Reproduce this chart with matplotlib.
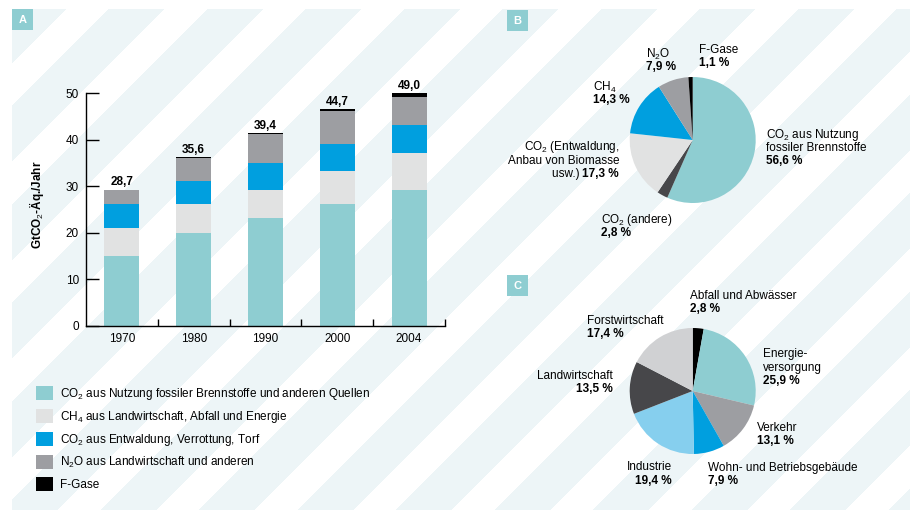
import numpy as np
import matplotlib.pyplot as plt
from matplotlib.patches import Rectangle

plt.rcParams['font.family'] = ['Liberation Sans', 'DejaVu Sans']
plt.rcParams['mathtext.fontset'] = 'custom'
plt.rcParams['mathtext.rm'] = 'Liberation Sans'
plt.rcParams['mathtext.it'] = 'Liberation Sans:italic'
plt.rcParams['mathtext.bf'] = 'Liberation Sans:bold'

# --- Panel A: stacked bars (GtCO2-eq per year) ---
years = ["1970", "1980", "1990", "2000", "2004"]
co2_fossil = [15.0, 20.0, 23.1, 26.2, 29.2]
ch4 = [6.1, 6.2, 6.1, 7.0, 8.0]
co2_forest = [5.1, 5.0, 5.9, 6.0, 6.0]
n2o = [3.0, 5.0, 6.1, 7.0, 6.1]
f_gases = [0.1, 0.1, 0.2, 0.4, 0.7]
totals = ["28,7", "35,6", "39,4", "44,7", "49,0"]
series_labels = [
    "CO$_2$ aus Nutzung fossiler Brennstoffe und anderen Quellen",
    "CH$_4$ aus Landwirtschaft, Abfall und Energie",
    "CO$_2$ aus Entwaldung, Verrottung, Torf",
    "N$_2$O aus Landwirtschaft und anderen",
    "F-Gase",
]

# --- Panel B: share by gas (2004) ---
gas_names = ["CO$_2$ aus Nutzung\nfossiler Brennstoffe", "CO$_2$ (andere)",
             "CO$_2$ (Entwaldung,\nAnbau von Biomasse\nusw.)", "CH$_4$", "N$_2$O", "F-Gase"]
gas_share = [56.6, 2.8, 17.3, 14.3, 7.9, 1.1]

# --- Panel C: share by sector (2004) ---
sector_names = ["Abfall und Abwässer", "Energie-\nversorgung", "Verkehr",
                "Wohn- und Betriebsgebäude", "Industrie", "Landwirtschaft",
                "Forstwirtschaft"]
sector_share = [2.8, 25.9, 13.1, 7.9, 19.4, 13.5, 17.4]

TEAL = "#8ecdd1"
LGRAY = "#e1e2e2"
BLUE = "#009fdf"
GRAY = "#9d9ea2"
BLACK = "#000000"
DARK = "#47474a"
LBLUE = "#86cfee"
FGRAY = "#d0d1d3"
STRIPE = "#edf5f7"

W, H = 910, 511
fig = plt.figure(figsize=(W / 100, H / 100), dpi=100)

# background canvas in pixel units (y up)
bg = fig.add_axes([0, 0, 1, 1], zorder=0)

# diagonal stripes
xx, yy = np.meshgrid(np.arange(W) + 0.5, np.arange(H) + 0.5)
stripe = ((xx + yy - 118) % 98.5) < 56
inside = (xx >= 12) & (yy >= 9) & (yy <= 510)
img = np.ones((H, W, 3))
col = np.array([int(STRIPE[i:i + 2], 16) / 255 for i in (1, 3, 5)])
img[stripe & inside] = col
bg.imshow(img, extent=(0, W, 0, H), origin='upper', interpolation='nearest',
          aspect='auto', zorder=0)


def py(y):
    return H - y


# letter boxes
for letter, x0, y0 in [("A", 12, 9), ("B", 507, 10), ("C", 507, 275)]:
    bg.add_patch(Rectangle((x0, py(y0 + 21)), 21, 21, facecolor=TEAL,
                           edgecolor='none', zorder=2))
    bg.text(x0 + 10.5, py(y0 + 10.5), letter, color='white', fontsize=8,
            fontweight='bold', ha='center', va='center', zorder=3)

# --- bar chart ---
ax = fig.add_axes([86 / W, 1 - 326 / H, 359 / W, 232.7 / H], zorder=1)
ax.patch.set_visible(False)
x = np.arange(len(years))
bottom = np.zeros(len(years))
handles = []
for vals, c in zip([co2_fossil, ch4, co2_forest, n2o, f_gases],
                   [TEAL, LGRAY, BLUE, GRAY, BLACK]):
    b = ax.bar(x, vals, width=0.49, bottom=bottom, color=c, edgecolor='none')
    handles.append(b)
    bottom += np.array(vals)
for xi, top, lab in zip(x, bottom, totals):
    ax.annotate(lab, (xi, top), xytext=(0, 1), textcoords='offset points',
                ha='center', va='bottom', fontsize=8.5, fontweight='bold')
ax.set_xlim(-0.5, 4.5)
ax.set_ylim(0, 50)
ax.set_xticks(x)
ax.set_xticklabels(years)
ax.set_xticks(np.arange(0.5, 5, 1), minor=True)
ax.tick_params(axis='x', which='major', length=0, labelsize=8.5, pad=5)
ax.tick_params(axis='x', which='minor', direction='in', length=5, width=1)
ax.set_yticks(np.arange(0, 51, 10))
ax.tick_params(axis='y', direction='in', length=9, width=1, labelsize=8.5, pad=5)
for s in ['top', 'right']:
    ax.spines[s].set_visible(False)
for s in ['left', 'bottom']:
    ax.spines[s].set_linewidth(1)
fig.text(37 / W, 1 - 205 / H, "GtCO$_2$-Äq./Jahr", rotation=90, ha='center',
         va='center', fontsize=8.5, fontweight='bold')

fig.legend([h[0] for h in handles], series_labels, loc='upper left',
           bbox_to_anchor=(36 / W, 1 - 386 / H), frameon=False, borderpad=0,
           borderaxespad=0, fontsize=8.5, handlelength=1.45, handleheight=1.45,
           handletextpad=0.6, labelspacing=0.6)

# --- pie B ---
bg.pie(gas_share, colors=[TEAL, DARK, LGRAY, BLUE, GRAY, BLACK],
       startangle=90, counterclock=False, center=(692.7, py(140)), radius=63,
       wedgeprops=dict(edgecolor='none'), frame=True)

# --- pie C ---
bg.pie(sector_share, colors=[BLACK, TEAL, GRAY, BLUE, LBLUE, DARK, FGRAY],
       startangle=90, counterclock=False, center=(692.7, py(391)), radius=63,
       wedgeprops=dict(edgecolor='none'), frame=True)
bg.set_xlim(0, W)
bg.set_ylim(0, H)
bg.axis('off')


def pct(v):
    return f"{v:.1f} %".replace('.', ',')


LINE = 13.2


def pie_label(name, value, x0, y_first, ha):
    lines = name.split('\n')
    for i, line in enumerate(lines):
        bg.text(x0, py(y_first + i * LINE), line, ha=ha, va='center',
                fontsize=8.5, zorder=3)
    bg.text(x0, py(y_first + len(lines) * LINE), pct(value), ha=ha,
            va='center', fontsize=8.5, fontweight='bold', zorder=3)


# pie B labels: (x, first line y, alignment)
gas_pos = [(765.7, 135, 'left'), (600.7, 220, 'left'), None,
           (592.7, 87, 'left'), (646, 54, 'left'), (699, 50, 'left')]
for name, v, pos in zip(gas_names, gas_share, gas_pos):
    if pos is not None:
        pie_label(name, v, *pos)
# Entwaldung label: last line shares value
ent_lines = gas_names[2].split('\n')
for i, line in enumerate(ent_lines[:-1]):
    bg.text(619, py(147 + i * 13.5), line, ha='right', va='center',
            fontsize=8.5, zorder=3)
t_val = bg.text(619, py(174), pct(gas_share[2]), ha='right', va='center',
                fontsize=8.5, fontweight='bold', zorder=3)
bg.annotate(ent_lines[-1] + " ", xy=(0, 0.5), xycoords=t_val, ha='right',
            va='center', fontsize=8.5, zorder=3)

# pie C labels
sector_pos = [(690, 296, 'left'), (763.3, 354.5, 'left'), (756.7, 428, 'left'),
              (708.3, 467.5, 'left'), (672, 467.5, 'right'),
              (612.7, 376, 'right'), (586.7, 321, 'left')]
for name, v, pos in zip(sector_names, sector_share, sector_pos):
    pie_label(name, v, *pos)

fig.savefig("out.png", dpi=100)
